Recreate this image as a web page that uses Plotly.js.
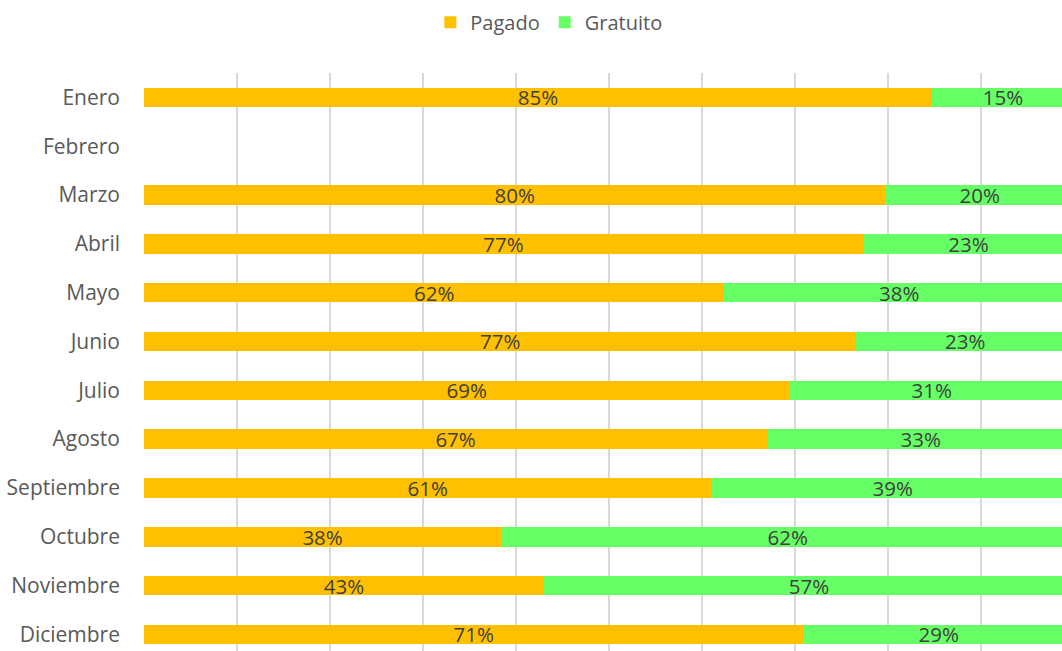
<!DOCTYPE html>
<html>
<head>
<meta charset="utf-8">
<script src="https://cdn.plot.ly/plotly-3.0.1.min.js"></script>
<style>html,body{margin:0;padding:0;background:#fff;overflow:hidden;}</style>
</head>
<body>
<div id="chart" style="width:1062px;height:651px;"></div>
<script>
const months = ["Enero","Febrero","Marzo","Abril","Mayo","Junio","Julio","Agosto","Septiembre","Octubre","Noviembre","Diciembre"];
const pagado   = [84.7, null, 79.7, 77.3, 62.4, 76.6, 69.4, 67.0, 61.0, 38.4, 43.0, 70.9];
const gratuito = [15.3, null, 20.3, 22.7, 37.6, 23.4, 30.6, 33.0, 39.0, 61.6, 57.0, 29.1];

const textFont = {family: "Open Sans, sans-serif", size: 20.5, color: "#404040"};
function trace(name, vals, color) {
  return {
    type: "bar", orientation: "h", name: name,
    y: months, x: vals,
    marker: {color: color},
    texttemplate: "%{x:.0f}%",
    textposition: "inside", insidetextanchor: "middle",
    constraintext: "none",
    textfont: textFont,
    cliponaxis: true,
    hoverinfo: "skip"
  };
}
const data = [trace("Pagado", pagado, "#FFC000"), trace("Gratuito", gratuito, "#66FF66")];

const layout = {
  width: 1062, height: 651,
  margin: {l: 144, r: 0, t: 73, b: 0, pad: 0},
  barmode: "stack",
  bargap: 0.6,
  paper_bgcolor: "#fff", plot_bgcolor: "#fff",
  font: {family: "Open Sans, sans-serif", color: "#595959", size: 20},
  showlegend: true,
  legend: {orientation: "h", x: 0.441, xanchor: "center", y: 1.088, yanchor: "middle",
           font: {size: 20, color: "#595959"}, traceorder: "normal", itemwidth: 30},
  xaxis: {range: [0, 98.7], dtick: 10, tick0: 0, showgrid: true, gridcolor: "#d9d9d9", gridwidth: 1.4,
          showticklabels: false, zeroline: false, showline: false, fixedrange: true},
  yaxis: {categoryorder: "array", categoryarray: months, range: [11.34, -0.5],
          showgrid: false, zeroline: false, showline: false, ticks: "", ticklabelstandoff: 23,
          tickfont: {size: 21, color: "#595959"}, fixedrange: true}
};
Plotly.newPlot("chart", data, layout, {displayModeBar: false, staticPlot: true});
</script>
</body>
</html>
